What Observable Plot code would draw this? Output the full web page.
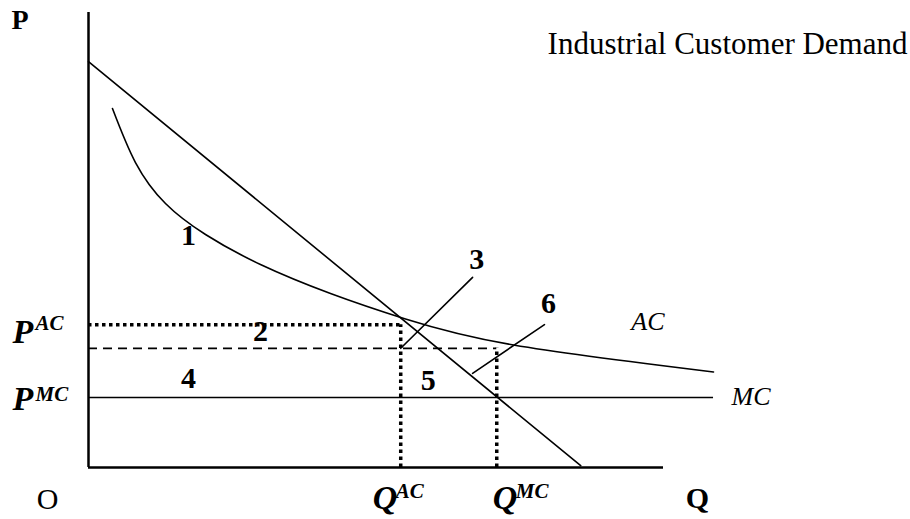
<!DOCTYPE html>
<html>
<head>
<meta charset="utf-8">
<script src="https://cdn.jsdelivr.net/npm/d3@7"></script>
<script src="https://cdn.jsdelivr.net/npm/@observablehq/plot@0.6"></script>
<style>
  html, body { margin: 0; padding: 0; background: #fff; }
  #chart svg { display: block; }
</style>
</head>
<body>
<div id="chart"></div>
<script>
// ---- Data (economic units: Q on x, P on y) ----
const demandQ = [0, 8.56];
const demandP = [8.92, 0.04];

const acQ = [0.417, 0.817, 1.339, 2.035, 2.991, 4.209, 5.513, 7.391, 10.87];
const acP = [7.890, 6.703, 5.802, 5.121, 4.462, 3.824, 3.264, 2.692, 2.099];

const pMC = 1.54;     // marginal cost price
const pAC = 3.14;     // average cost price
const pMid = 2.62;    // intermediate price (dashed)
const qAC = 5.43;     // quantity at P^AC
const qMC = 7.10;     // quantity at P^MC
const qMax = 10;      // axis length
const pMax = 10;
const mcEnd = 10.87;

// pointer lines for regions 3 and 6
const ptr3Q = [qAC, 6.68], ptr3P = [pMid, 4.18];
const ptr6Q = [6.68, 7.93], ptr6P = [2.07, 3.14];

// region numbers
const regionLabels = ["1", "2", "3", "4", "5", "6"];
const regionQ = [1.74, 2.99, 6.75, 1.74, 5.91, 8.0];
const regionP = [4.88, 2.77, 4.37, 1.74, 1.71, 3.385];

const title = "Industrial Customer Demand";

// ---- build tables ----
const demand = demandQ.map((q, i) => ({q, p: demandP[i]}));
const ac = acQ.map((q, i) => ({q, p: acP[i]}));
const ptr3 = ptr3Q.map((q, i) => ({q, p: ptr3P[i]}));
const ptr6 = ptr6Q.map((q, i) => ({q, p: ptr6P[i]}));
const regions = regionLabels.map((t, i) => ({t, q: regionQ[i], p: regionP[i]}));

const serif = "'Liberation Serif', 'Times New Roman', serif";
const lw = 1.6;

const plot = Plot.plot({
  width: 910,
  height: 519,
  marginTop: 0, marginRight: 0, marginBottom: 0, marginLeft: 0,
  x: {domain: [0, qMax], range: [88, 663], axis: null},
  y: {domain: [0, pMax], range: [467, 12], axis: null},
  style: {fontFamily: serif, background: "#fff", color: "#000"},
  marks: [
    // axes
    Plot.ruleX([0], {y1: 0, y2: pMax, stroke: "#000", strokeWidth: 2.5}),
    Plot.ruleY([0], {x1: 0, x2: qMax, stroke: "#000", strokeWidth: 2.5}),
    // MC line
    Plot.ruleY([pMC], {x1: 0, x2: mcEnd, stroke: "#000", strokeWidth: lw}),
    // demand
    Plot.line(demand, {x: "q", y: "p", stroke: "#000", strokeWidth: lw}),
    // AC curve
    Plot.line(ac, {x: "q", y: "p", curve: "natural", stroke: "#000", strokeWidth: lw}),
    // dotted P^AC and Q^AC / Q^MC
    Plot.ruleY([pAC], {x1: 0, x2: qAC, stroke: "#000", strokeWidth: 3.5, strokeDasharray: "3.5,3.5"}),
    Plot.ruleX([qAC], {y1: 0, y2: pAC, stroke: "#000", strokeWidth: 3.5, strokeDasharray: "3.5,3.5"}),
    Plot.ruleX([qMC], {y1: 0, y2: pMid, stroke: "#000", strokeWidth: 3.5, strokeDasharray: "3.5,3.5"}),
    // dashed intermediate price
    Plot.ruleY([pMid], {x1: 0, x2: qMC, stroke: "#000", strokeWidth: 1.8, strokeDasharray: "9,6"}),
    // pointer lines
    Plot.line(ptr3, {x: "q", y: "p", stroke: "#000", strokeWidth: lw}),
    Plot.line(ptr6, {x: "q", y: "p", stroke: "#000", strokeWidth: lw}),
    // region numbers
    Plot.text(regions, {x: "q", y: "p", text: "t", fontSize: 30, fontWeight: "bold", lineAnchor: "bottom", textAnchor: "middle", fill: "#000"}),
    // curve labels
    Plot.text(["AC"], {x: 9.44, y: 3.03, text: d => d, fontSize: 26, fontStyle: "italic", lineAnchor: "bottom", textAnchor: "start", fill: "#000"}),
    Plot.text(["MC"], {x: mcEnd, y: pMC, text: d => d, dx: 18, dy: 8, fontSize: 26, fontStyle: "italic", lineAnchor: "bottom", textAnchor: "start", fill: "#000"}),
    // axis letters
    Plot.text(["P"], {x: 0, y: pMax, text: d => d, dx: -77, dy: 16, fontSize: 28, fontWeight: "bold", lineAnchor: "bottom", textAnchor: "start", fill: "#000"}),
    Plot.text(["Q"], {x: qMax, y: 0, text: d => d, dx: 34, dy: 40, fontSize: 30, fontWeight: "bold", lineAnchor: "bottom", textAnchor: "middle", fill: "#000"}),
    Plot.text(["O"], {x: 0, y: 0, text: d => d, dx: -41, dy: 41, fontSize: 30, lineAnchor: "bottom", textAnchor: "middle", fill: "#000"}),
    // P^AC, P^MC
    Plot.text(["P"], {x: 0, y: pAC, text: d => d, dx: -76, dy: 18, fontSize: 34, fontWeight: "bold", fontStyle: "italic", lineAnchor: "bottom", textAnchor: "start", fill: "#000"}),
    Plot.text(["AC"], {x: 0, y: pAC, text: d => d, dx: -53, dy: 5, fontSize: 21, fontWeight: "bold", fontStyle: "italic", lineAnchor: "bottom", textAnchor: "start", fill: "#000"}),
    Plot.text(["P"], {x: 0, y: pMC, text: d => d, dx: -76, dy: 13, fontSize: 34, fontWeight: "bold", fontStyle: "italic", lineAnchor: "bottom", textAnchor: "start", fill: "#000"}),
    Plot.text(["MC"], {x: 0, y: pMC, text: d => d, dx: -53, dy: 4, fontSize: 21, fontWeight: "bold", fontStyle: "italic", lineAnchor: "bottom", textAnchor: "start", fill: "#000"}),
    // Q^AC, Q^MC
    Plot.text(["Q"], {x: qAC, y: 0, text: d => d, dx: -28, dy: 41, fontSize: 34, fontWeight: "bold", fontStyle: "italic", lineAnchor: "bottom", textAnchor: "start", fill: "#000"}),
    Plot.text(["AC"], {x: qAC, y: 0, text: d => d, dx: -5, dy: 30, fontSize: 21, fontWeight: "bold", fontStyle: "italic", lineAnchor: "bottom", textAnchor: "start", fill: "#000"}),
    Plot.text(["Q"], {x: qMC, y: 0, text: d => d, dx: -4, dy: 41, fontSize: 34, fontWeight: "bold", fontStyle: "italic", lineAnchor: "bottom", textAnchor: "start", fill: "#000"}),
    Plot.text(["MC"], {x: qMC, y: 0, text: d => d, dx: 19, dy: 30, fontSize: 21, fontWeight: "bold", fontStyle: "italic", lineAnchor: "bottom", textAnchor: "start", fill: "#000"}),
    // title
    Plot.text([title], {frameAnchor: "top-right", text: d => d, dx: -3, dy: 53, fontSize: 31, lineAnchor: "bottom", textAnchor: "end", fill: "#000"})
  ]
});

document.getElementById("chart").appendChild(plot);
</script>
</body>
</html>
